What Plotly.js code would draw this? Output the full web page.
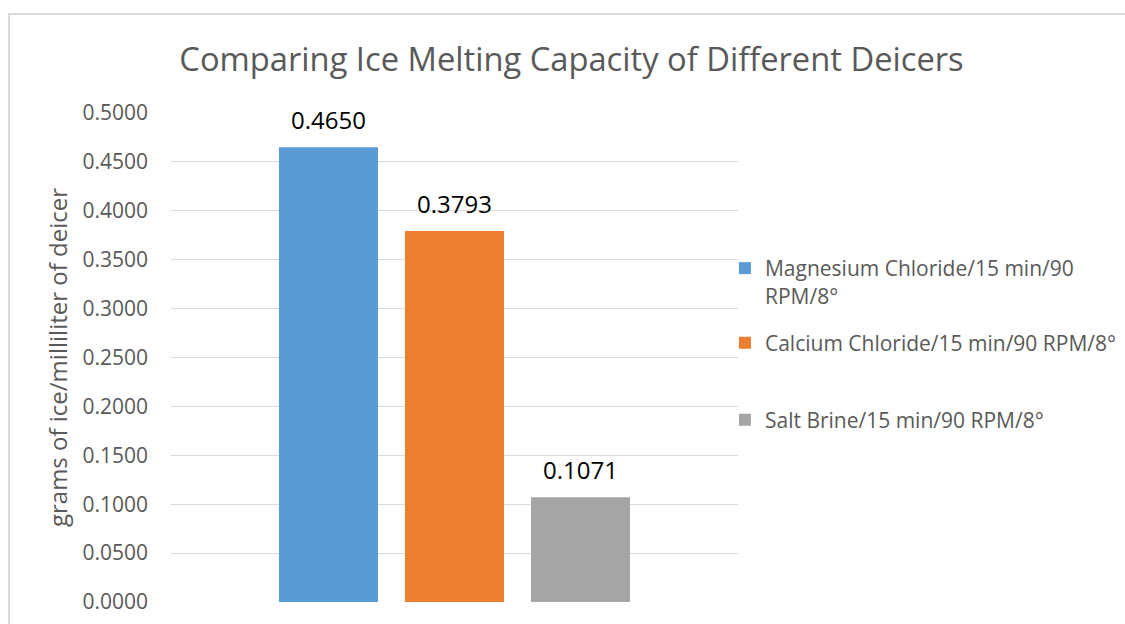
<!DOCTYPE html>
<html><head><meta charset="utf-8">
<script src="https://cdn.plot.ly/plotly-3.0.1.min.js"></script>
<style>
html,body{margin:0;padding:0;background:#fff;overflow:hidden}
#chart{width:1125px;height:624px;position:absolute;left:0;top:0}
#frame{position:absolute;left:8px;top:13px;width:1200px;height:700px;border-left:2px solid #d9d9d9;border-top:2px solid #d9d9d9;pointer-events:none}
</style></head><body>
<div id="chart"></div><div id="frame"></div>
<script>
const seriesNames = ["Magnesium Chloride/15 min/90 RPM/8°", "Calcium Chloride/15 min/90 RPM/8°", "Salt Brine/15 min/90 RPM/8°"];
const legendLabels = ["Magnesium Chloride/15 min/90<br>RPM/8°", "Calcium Chloride/15 min/90 RPM/8°", "Salt Brine/15 min/90 RPM/8°"];
const values = [0.4650, 0.3793, 0.1071];
const valueLabels = ["0.4650", "0.3793", "0.1071"];
const colors = ["#5b9bd5", "#ed7d31", "#a5a5a5"];
const yTickVals = [0, 0.05, 0.1, 0.15, 0.2, 0.25, 0.3, 0.35, 0.4, 0.45, 0.5];
const yTickText = ["0.0000", "0.0500", "0.1000", "0.1500", "0.2000", "0.2500", "0.3000", "0.3500", "0.4000", "0.4500", "0.5000"];

const FONT = "'Open Sans', 'Noto Sans', sans-serif";
const legendNames = ["legend", "legend2", "legend3"];

const traces = seriesNames.map((s, i) => ({
  type: "bar",
  x: [s],
  y: [values[i]],
  name: legendLabels[i],
  marker: {color: colors[i]},
  legend: legendNames[i],
  hoverinfo: "y+name"
}));

const annotations = seriesNames.map((s, i) => ({
  x: s, y: values[i], xref: "x", yref: "y",
  text: valueLabels[i], showarrow: false,
  yanchor: "bottom", yshift: 9,
  font: {family: FONT, size: 24, color: "#000000"}
}));

const legendBase = {
  xref: "container", yref: "container",
  x: 0.6444, xanchor: "left", yanchor: "top", valign: "top",
  bgcolor: "rgba(0,0,0,0)", borderwidth: 0,
  font: {family: FONT, size: 21, color: "#595959"}
};

const layout = {
  width: 1125, height: 624,
  margin: {l: 171, r: 387, t: 113, b: 22, autoexpand: false},
  paper_bgcolor: "#ffffff", plot_bgcolor: "#ffffff",
  font: {family: FONT, color: "#595959"},
  title: {
    text: "Comparing Ice Melting Capacity of Different Deicers",
    font: {family: FONT, size: 32.7, color: "#595959"},
    xref: "container", x: 0.508, xanchor: "center",
    yref: "container", y: 0.904, yanchor: "middle"
  },
  barmode: "overlay",
  bargap: 0.214,
  xaxis: {
    type: "category", categoryorder: "array", categoryarray: seriesNames,
    range: [-1.25, 3.25], showticklabels: false, showgrid: false,
    zeroline: false, showline: false, ticks: ""
  },
  yaxis: {
    range: [0, 0.5], tickmode: "array", tickvals: yTickVals, ticktext: yTickText,
    showgrid: true, gridcolor: "#d9d9d9", gridwidth: 1, zeroline: false, showline: false,
    ticklabelstandoff: 22,
    tickfont: {family: FONT, size: 21, color: "#595959"},
    title: {text: "grams of ice/milliliter of deicer", standoff: 8,
            font: {family: FONT, size: 24, color: "#595959"}}
  },
  legend: Object.assign({}, legendBase, {y: 0.6026}),
  legend2: Object.assign({}, legendBase, {y: 0.4829}),
  legend3: Object.assign({}, legendBase, {y: 0.3598}),
  annotations: annotations,
  showlegend: true
};

Plotly.newPlot("chart", traces, layout, {displayModeBar: false, responsive: false});
</script>
</body></html>
